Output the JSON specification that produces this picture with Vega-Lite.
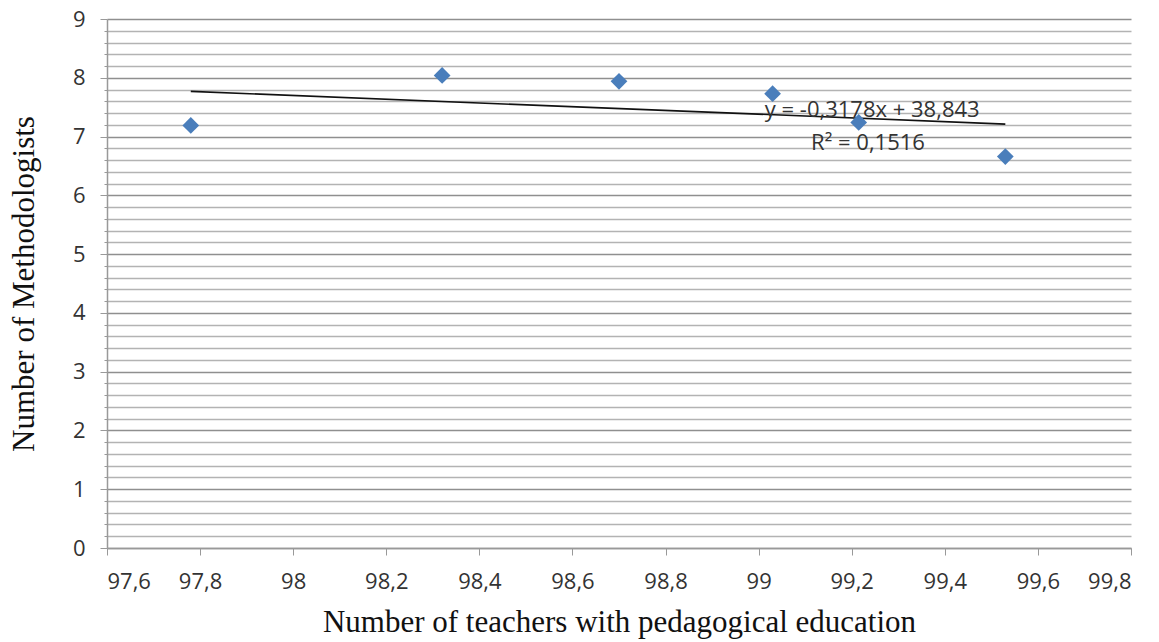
{
  "$schema": "https://vega.github.io/schema/vega-lite/v6.json",
  "width": 1024,
  "height": 529,
  "autosize": {"type": "none"},
  "padding": {"left": 107, "top": 19, "right": 28, "bottom": 94},
  "background": "white",
  "config": {"view": {"stroke": null}},
  "datasets": {
    "points": [
      {"teachers": 97.78, "methodologists": 7.19},
      {"teachers": 98.32, "methodologists": 8.04},
      {"teachers": 98.70, "methodologists": 7.94},
      {"teachers": 99.03, "methodologists": 7.73},
      {"teachers": 99.215, "methodologists": 7.24},
      {"teachers": 99.53, "methodologists": 6.66}
    ],
    "trend": [
      {"teachers": 97.78, "methodologists": 7.769},
      {"teachers": 99.53, "methodologists": 7.212}
    ],
    "notes": [
      {"teachers": 99.244, "methodologists": 7.45, "label": "y = -0,3178x + 38,843"},
      {"teachers": 99.235, "methodologists": 6.89, "label": "R² = 0,1516"}
    ]
  },
  "encoding": {
    "x": {
      "field": "teachers",
      "type": "quantitative",
      "scale": {"domain": [97.6, 99.8], "nice": false, "zero": false},
      "axis": {
        "title": "Number of teachers with pedagogical education",
        "titleFont": "Liberation Serif",
        "titleFontSize": 31,
        "titleFontWeight": "normal",
        "titleColor": "#111",
        "titlePadding": 15,
        "values": [97.6, 97.8, 98, 98.2, 98.4, 98.6, 98.8, 99, 99.2, 99.4, 99.6, 99.8],
        "format": ".1~f",
        "labelExpr": "replace(datum.label, '.', ',')",
        "labelFont": "Open Sans",
        "labelFontSize": 22,
        "labelColor": "#333",
        "labelPadding": 16,
        "tickSize": 7,
        "tickColor": "#999",
        "domainColor": "#999",
        "domainWidth": 1.5,
        "grid": false
      }
    },
    "y": {
      "field": "methodologists",
      "type": "quantitative",
      "scale": {"domain": [0, 9], "nice": false},
      "axis": {
        "title": "Number of Methodologists",
        "titleFont": "Liberation Serif",
        "titleFontSize": 31,
        "titleFontWeight": "normal",
        "titleColor": "#111",
        "titlePadding": 32,
        "values": [0, 0.2, 0.4, 0.6, 0.8, 1, 1.2, 1.4, 1.6, 1.8, 2, 2.2, 2.4, 2.6, 2.8, 3, 3.2, 3.4, 3.6, 3.8, 4, 4.2, 4.4, 4.6, 4.8, 5, 5.2, 5.4, 5.6, 5.8, 6, 6.2, 6.4, 6.6, 6.8, 7, 7.2, 7.4, 7.6, 7.8, 8, 8.2, 8.4, 8.6, 8.8, 9],
        "labelExpr": "datum.value % 1 === 0 ? format(datum.value, 'd') : ''",
        "labelFont": "Open Sans",
        "labelFontSize": 22,
        "labelColor": "#333",
        "labelPadding": 15,
        "tickSize": {"condition": {"test": "datum.value % 1 === 0", "value": 7}, "value": 3},
        "tickColor": "#999",
        "domainColor": "#999",
        "domainWidth": 1.5,
        "grid": true,
        "gridColor": {"condition": {"test": "datum.value % 1 === 0", "value": "#8f8f8f"}, "value": "#b3b3b3"},
        "gridWidth": 1.6,
        "gridOpacity": 1
      }
    }
  },
  "layer": [
    {
      "data": {"name": "trend"},
      "mark": {"type": "line", "color": "#111", "strokeWidth": 1.6},
      "encoding": {}
    },
    {
      "data": {"name": "points"},
      "mark": {"type": "point", "shape": "diamond", "filled": true, "color": "#4a7ebb", "size": 280, "opacity": 1},
      "encoding": {}
    },
    {
      "data": {"name": "notes"},
      "mark": {"type": "text", "font": "Open Sans", "fontSize": 22, "color": "#333", "align": "center", "baseline": "middle"},
      "encoding": {"text": {"field": "label"}}
    }
  ]
}
